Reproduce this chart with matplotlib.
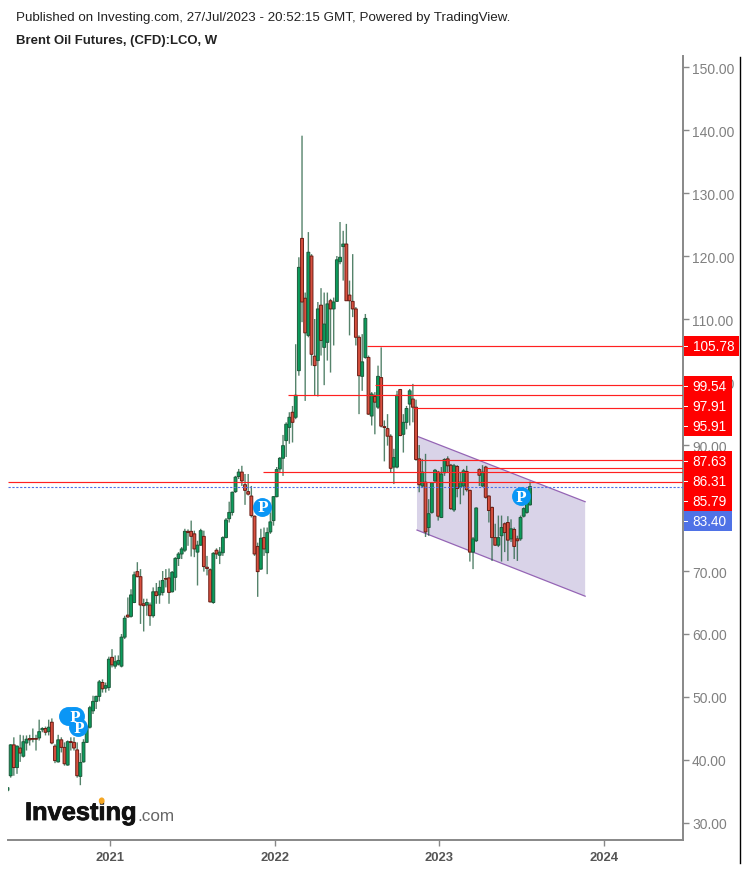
import matplotlib
matplotlib.use('Agg')
import matplotlib.pyplot as plt
import matplotlib.patheffects as pe
from matplotlib.lines import Line2D
from matplotlib.patches import Polygon, Rectangle

plt.rcParams['font.family'] = ['Liberation Sans', 'DejaVu Sans']

W, H = 747, 870

# weekly bars, first one is cut by the left edge of the chart
opens = [35.2, 37.5, 42.4, 38.8, 41.9, 40.6, 42.7, 43.4, 43.4, 43.4, 43.5, 44.8, 45.0, 44.5, 46.0, 42.2, 39.7, 43.2, 42.0,
         39.2, 42.9, 42.8, 41.6, 37.4, 39.7, 42.8, 45.2, 47.8, 49.3, 50.1, 52.3, 51.4, 51.5, 56.3, 54.9, 55.2, 54.9, 59.5,
         63.0, 62.8, 65.0, 69.9, 69.1, 64.8, 64.6, 64.6, 62.9, 66.7, 66.2, 66.6, 68.8, 68.9, 66.7, 69.0, 72.0, 72.7, 73.3,
         76.3, 76.3, 75.9, 73.0, 74.1, 75.5, 70.6, 70.2, 65.0, 73.3, 72.5, 72.9, 75.3, 78.3, 79.3, 82.6, 85.0, 85.7, 83.7,
         82.6, 81.9, 78.7, 73.9, 70.3, 75.3, 72.9, 76.2, 78.0, 81.8, 86.2, 87.9, 90.7, 92.8, 95.2, 94.4, 101.8, 122.8, 113.3,
         107.4, 120.0, 104.1, 103.4, 112.2, 105.5, 106.3, 112.9, 111.6, 112.8, 119.1, 121.5, 121.9, 113.8, 112.8, 111.6, 107.1,
         100.9, 103.9, 103.9, 94.6, 97.7, 96.0, 100.7, 92.9, 92.6, 91.4, 86.5, 86.5, 98.8, 91.7, 93.6, 96.5, 97.3, 96.0, 87.8,
         83.5, 84.1, 76.9, 79.3, 84.3, 85.7, 78.5, 85.6, 87.8, 86.8, 79.7, 86.6, 83.3, 83.5, 85.8, 82.8, 73.0, 74.8, 86.1,
         83.5, 86.5, 81.9, 80.1, 75.3, 74.1, 75.6, 77.5, 77.7, 75.1, 76.6, 75.1, 75.1, 78.7, 79.3, 80.5]
highs = [35.7, 42.5, 43.6, 42.3, 44.0, 43.9, 43.9, 44.0, 45.0, 44.0, 46.4, 45.2, 45.3, 46.4, 46.6, 42.5, 44.0, 43.6, 42.8,
         43.1, 43.6, 43.6, 42.8, 41.1, 43.3, 45.4, 48.6, 50.2, 50.2, 52.7, 52.8, 52.3, 56.4, 57.6, 56.6, 56.6, 60.0, 62.9,
         65.8, 67.1, 69.9, 71.4, 70.3, 65.6, 65.6, 65.0, 67.4, 68.1, 68.5, 70.0, 70.3, 70.4, 70.0, 72.2, 73.0, 73.8, 76.7,
         76.6, 78.0, 76.4, 74.8, 76.7, 76.4, 72.4, 70.4, 73.0, 73.6, 73.8, 75.5, 78.4, 81.0, 82.6, 85.1, 86.2, 86.7, 85.4,
         85.4, 83.5, 78.8, 74.5, 76.7, 76.9, 76.9, 79.3, 81.9, 86.5, 88.1, 91.6, 93.6, 95.2, 96.2, 106.0, 119.8, 139.1, 114.2,
         123.8, 120.3, 110.0, 112.7, 114.9, 114.2, 114.2, 113.2, 113.4, 120.0, 125.4, 124.0, 125.1, 116.1, 120.3, 111.9, 107.4,
         107.6, 110.8, 104.2, 98.4, 98.4, 102.6, 105.5, 93.9, 94.9, 91.7, 89.4, 98.6, 98.9, 94.9, 96.2, 98.9, 99.7, 97.2, 90.0,
         87.8, 88.6, 81.4, 84.1, 86.2, 85.9, 86.5, 87.9, 88.2, 87.0, 87.0, 86.8, 85.7, 86.2, 86.7, 82.9, 75.4, 80.1, 86.3,
         86.8, 86.7, 82.0, 80.2, 77.5, 78.8, 78.8, 77.7, 78.7, 78.2, 76.9, 75.6, 78.8, 80.1, 82.2, 84.2]
lows = [34.9, 37.2, 37.5, 37.8, 39.7, 40.4, 41.5, 42.3, 42.8, 41.5, 43.1, 44.4, 43.9, 43.9, 42.5, 39.5, 39.6, 41.2, 39.1,
        39.1, 41.5, 41.5, 37.2, 36.0, 39.6, 42.7, 45.0, 47.3, 48.1, 49.3, 50.7, 50.7, 51.0, 54.7, 54.5, 55.0, 54.7, 59.2,
        62.6, 62.6, 64.9, 69.0, 61.6, 60.4, 62.9, 61.3, 62.6, 64.8, 64.8, 66.1, 67.4, 64.8, 66.6, 66.9, 70.8, 71.9, 73.0,
        74.0, 72.3, 72.2, 67.7, 74.0, 69.9, 69.3, 65.0, 64.8, 71.9, 71.1, 72.4, 75.2, 77.7, 78.8, 82.4, 84.6, 83.5, 80.5,
        82.0, 78.5, 72.4, 65.9, 70.2, 72.4, 69.5, 75.9, 77.2, 81.7, 85.7, 85.1, 88.1, 90.2, 90.4, 94.1, 101.0, 109.5, 97.0,
        107.1, 102.6, 97.8, 97.7, 104.2, 99.5, 103.4, 101.5, 105.8, 112.7, 118.7, 116.1, 112.9, 107.4, 110.3, 105.8, 94.9,
        98.6, 103.7, 94.8, 93.1, 91.7, 95.7, 92.8, 87.4, 89.9, 85.6, 83.8, 86.3, 91.4, 88.8, 92.5, 93.1, 93.6, 87.5, 82.5,
        83.3, 75.4, 75.6, 79.1, 84.0, 78.0, 78.4, 85.1, 85.7, 79.7, 79.4, 81.7, 80.6, 82.0, 82.6, 71.5, 70.3, 74.6, 83.5,
        83.3, 81.5, 77.7, 71.6, 74.0, 73.8, 71.5, 73.0, 71.6, 74.6, 71.9, 71.6, 74.8, 78.5, 79.1, 80.4]
closes = [35.6, 42.4, 38.8, 42.2, 41.1, 42.9, 43.3, 43.2, 43.3, 43.3, 44.5, 45.0, 44.4, 45.2, 42.7, 39.9, 43.2, 42.0, 39.4,
          42.9, 42.8, 41.9, 37.5, 39.6, 42.8, 45.2, 48.3, 49.3, 50.1, 52.4, 51.3, 51.8, 56.0, 55.1, 55.6, 55.8, 59.5, 62.5,
          62.7, 66.2, 69.4, 69.1, 64.6, 64.5, 65.0, 62.9, 66.7, 66.1, 67.4, 68.5, 68.7, 66.6, 69.8, 72.0, 72.7, 73.5, 76.3,
          76.1, 75.5, 73.5, 74.1, 76.4, 70.7, 70.4, 65.1, 72.8, 72.7, 73.0, 75.3, 78.1, 79.3, 82.5, 84.9, 85.7, 84.3, 82.8,
          82.2, 78.8, 72.7, 69.9, 75.2, 73.5, 76.1, 77.8, 81.8, 86.1, 87.9, 89.9, 93.3, 94.4, 93.6, 97.9, 118.2, 112.7, 107.8,
          120.6, 104.4, 102.6, 111.6, 106.6, 109.2, 112.4, 111.6, 112.7, 119.4, 119.8, 121.9, 112.9, 112.9, 111.6, 107.1, 101.0,
          103.2, 110.1, 94.9, 98.1, 96.8, 100.9, 93.0, 92.8, 91.4, 86.3, 88.0, 97.9, 91.5, 93.6, 95.8, 98.6, 96.0, 87.7, 83.7,
          85.7, 76.2, 79.1, 84.0, 86.0, 78.7, 85.4, 87.7, 86.7, 79.9, 86.7, 83.1, 84.1, 85.9, 82.9, 73.0, 75.1, 80.0, 85.2,
          85.7, 81.7, 79.6, 75.3, 74.1, 75.3, 76.9, 76.1, 74.9, 76.7, 73.9, 74.8, 78.5, 79.9, 80.9, 83.4]

# price of the horizontal lines and the bar they start from
line_prices = [105.78, 99.54, 97.91, 95.91, 87.63, 86.31, 85.79, 84.13]
line_starts = [113.4, 116.0, 88.7, 128.0, 129.7, 150.8, 80.7, 0.0]
last_price = 83.40

channel_bars = [129.3, 182.4, 182.4, 129.3]
channel_prices = [91.4, 81.0, 66.0, 76.5]

pin_bars = [19.1, 20.4, 21.3, 22.3, 80.4, 162.1]
pin_prices = [47.0, 47.0, 47.0, 45.2, 80.2, 81.9]

y_ticks = [30, 40, 50, 60, 70, 80, 90, 100, 110, 120, 130, 140, 150]
year_ticks = [32.36, 84.46, 136.2, 188.3]
year_labels = ['2021', '2022', '2023', '2024']

# label text and the pixel row it is centred on
flag_labels = ['105.78', '99.54', '97.91', '95.91', '87.63', '86.31', '85.79', '83.40']
flag_rows = [347, 387, 407, 427, 462, 482, 502, 522]

GREEN = '#0b9c5c'
GREEN_DARK = '#1c5a3a'
RED = '#d8503f'
RED_DARK = '#6a1a12'
AXIS = '#888888'

fig = plt.figure(figsize=(W / 100, H / 100), dpi=100)
ax = fig.add_axes([8 / W, 1 - 841 / H, (683 - 8) / W, (841 - 57) / H])
ax.set_xlim(0.157, 213.3)
ax.set_ylim(27.3, 151.75)

for s in ['top', 'left']:
    ax.spines[s].set_visible(False)
for s in ['right', 'bottom']:
    ax.spines[s].set_color(AXIS)
    ax.spines[s].set_linewidth(1.4)

ax.yaxis.tick_right()
ax.set_yticks(y_ticks)
# 80.00 sits fully under the price flags
ax.set_yticklabels(['' if v == 80 else '%.2f' % v for v in y_ticks], fontsize=10, color='#808080')
ax.tick_params(axis='y', length=4, width=1, color=AXIS, pad=2.5)
ax.set_xticks(year_ticks)
ax.set_xticklabels(year_labels, fontsize=9.4, fontweight='bold', color='#555555')
ax.tick_params(axis='x', length=4, width=1, color=AXIS, pad=4)

ax.add_patch(Polygon(list(zip(channel_bars, channel_prices)), closed=True, facecolor='#d9d3e8',
                     edgecolor='none', zorder=1))
ax.plot(channel_bars[:2], channel_prices[:2], color='#9565b5', lw=0.9, zorder=1.5)
ax.plot(channel_bars[3:1:-1], channel_prices[3:1:-1], color='#9565b5', lw=0.9, zorder=1.5)

# bars
for i in range(len(opens)):
    up = closes[i] >= opens[i]
    edge = GREEN_DARK if up else RED_DARK
    wick = ax.plot([i, i], [lows[i], highs[i]], color=GREEN_DARK, lw=1.0, alpha=0.75, zorder=3, solid_capstyle='butt')[0]
    wick.set_snap(False)
    body = Rectangle((i - 0.45, min(opens[i], closes[i])), 0.9, abs(closes[i] - opens[i]),
                     facecolor=GREEN if up else RED, edgecolor=edge, lw=0.7, zorder=4)
    body.set_snap(False)
    ax.add_patch(body)

for p, b in zip(line_prices, line_starts):
    ax.plot([b, 213.3], [p, p], color='#ff2020', lw=0.85, zorder=5, solid_capstyle='butt')
ax.axhline(last_price, color='#4f72e6', lw=0.8, ls=(0, (2, 1.5)), zorder=5)

ax.scatter(pin_bars, pin_prices, s=185, color='#0a96f5', zorder=6, linewidths=0)
for b, p in zip(pin_bars[2:], pin_prices[2:]):
    ax.text(b, p - 0.1, 'P', color='white', fontsize=10, fontweight='bold', family='DejaVu Serif',
            ha='center', va='center', zorder=7)

# price flags sit on the axis, over the tick labels
for lab, row in zip(flag_labels, flag_rows):
    col = '#4f72e6' if lab == '83.40' else '#ff0000'
    right = 739 if lab == '105.78' else 732
    fig.patches.append(Rectangle((684 / W, 1 - (row + 10) / H), (right - 684) / W, 20 / H, transform=fig.transFigure,
                                 facecolor=col, edgecolor='none', zorder=8, figure=fig))
    fig.patches.append(Rectangle((684 / W, 1 - (row + 0.5) / H), 4 / W, 1 / H, transform=fig.transFigure,
                                 facecolor='white', edgecolor='none', zorder=9, figure=fig))
    fig.text(692.5 / W, 1 - row / H, lab, color='white', fontsize=9.8, ha='left', va='center', zorder=10)

# black rule down the right side of the picture
fig.add_artist(Line2D([739.5 / W, 739.5 / W], [1 - 58 / H, 1 - 864 / H], color='black', lw=1.0))

fig.text(16 / W, 1 - 18 / H, 'Published on Investing.com, 27/Jul/2023 - 20:52:15 GMT, Powered by TradingView.',
         fontsize=9.63, color='#222222', ha='left', va='center')
fig.text(16 / W, 1 - 41 / H, 'Brent Oil Futures, (CFD):LCO, W', fontsize=9.45, fontweight='bold', color='#222222',
         ha='left', va='center')

fig.text(25 / W, 1 - 821 / H, 'Investing', fontsize=18.3, fontweight='bold', color='#111111', ha='left', va='baseline',
         path_effects=[pe.withStroke(linewidth=0.6, foreground='#111111')])
fig.text(137 / W, 1 - 821 / H, '.com', fontsize=12.3, color='#666666', ha='left', va='baseline')
fig.patches.append(plt.Circle((101.7 / W, 1 - 801.7 / H), 2.2 / W, transform=fig.transFigure, color='#f5a623',
                              zorder=10, figure=fig))

fig.savefig('out.png', dpi=100)
